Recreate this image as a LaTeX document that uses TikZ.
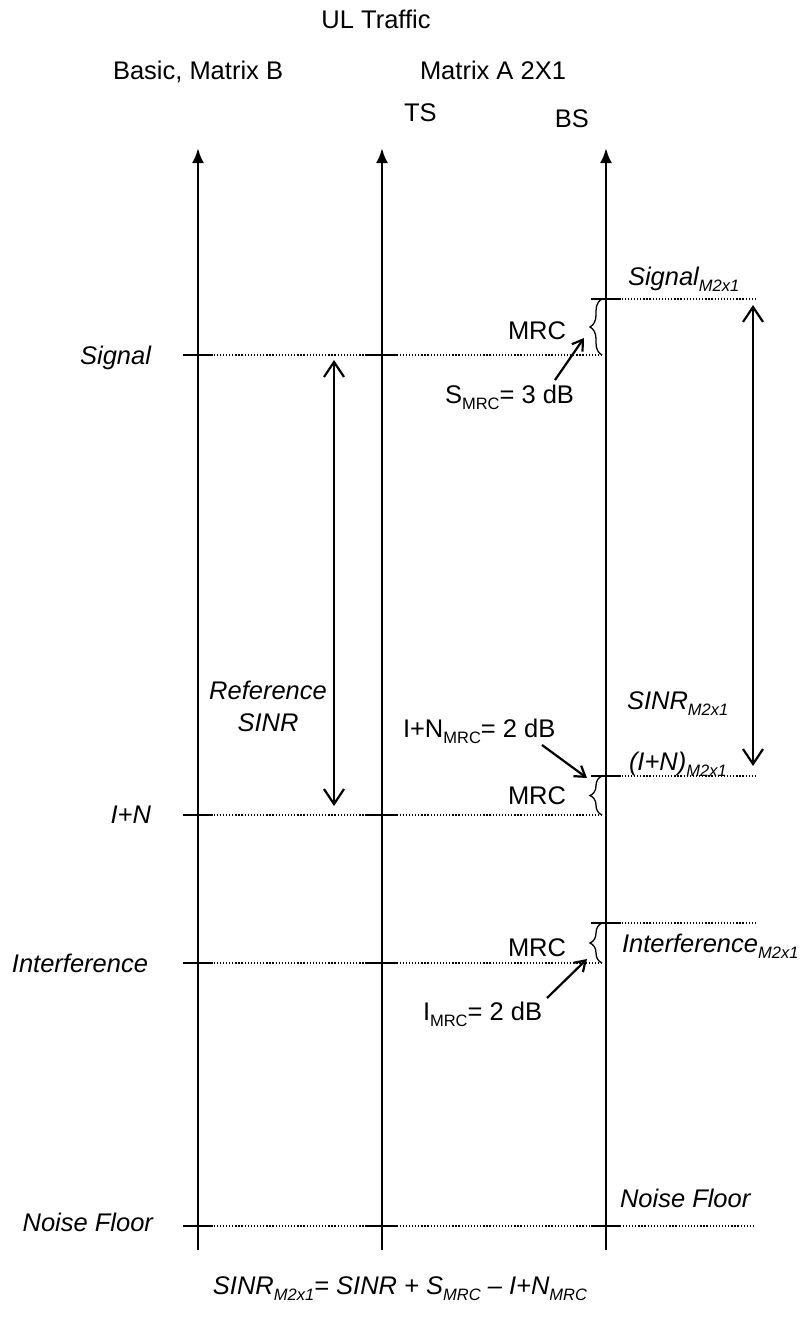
\documentclass[tikz,border=0pt]{standalone}
\usepackage{fontspec}
\setmainfont{Liberation Sans}
\usetikzlibrary{arrows.meta,decorations.pathreplacing}
\newcommand\lowidx[1]{\raisebox{-6.5pt}{\fontsize{16.5}{18}\selectfont #1}}
\begin{document}
\begin{tikzpicture}[x=1pt,y=-1pt,
  font=\fontsize{25.5}{30}\selectfont,
  axisline/.style={line width=2.8pt,-{Latex[length=15pt,width=12pt]}},
  tickmark/.style={line width=2pt},
  levelline/.style={line width=1.3pt,dash pattern=on 1.3pt off 1.8pt},
  span/.style={line width=2.2pt,{Straight Barb[length=15pt,width=20pt]}-{Straight Barb[length=15pt,width=20pt]}},
  pointer/.style={line width=2.2pt,-{Straight Barb[length=10pt,width=13pt]}},
  mrcbrace/.style={decorate,decoration={brace,amplitude=12pt},line width=1.3pt},
  lbl/.style={inner sep=0pt,outer sep=0pt}]
\useasboundingbox (0,0) rectangle (803,1322);

% header texts
\node[lbl,anchor=base] (ul) at (376,29) {UL Traffic};
\node[lbl,anchor=base west] (basic) at (113,79) {Basic, Matrix B};
\node[lbl,anchor=base west] (mata) at (420,79) {Matrix A 2X1};
\node[lbl,anchor=base west] (ts) at (404,121) {TS};
\node[lbl,anchor=base east] (bs) at (589,127) {BS};

% axes
\coordinate (a1b) at (198,1250); \coordinate (a1t) at (198,148);
\coordinate (a2b) at (382,1250); \coordinate (a2t) at (382,148);
\coordinate (a3b) at (606,1250); \coordinate (a3t) at (606,148);
\draw[axisline] (a1b) -- (a1t);
\draw[axisline] (a2b) -- (a2t);
\draw[axisline] (a3b) -- (a3t);

% ticks
\foreach \yy in {355,815,963,1226} {
  \draw[tickmark] (183,\yy) -- (213,\yy);
  \draw[tickmark] (367,\yy) -- (397,\yy);
}
\foreach \yy in {299,776,923,1226}
  \draw[tickmark] (591,\yy) -- (621,\yy);

% level lines
\coordinate (sigL) at (198,355);   \coordinate (sigR) at (603,355);
\coordinate (inL) at (198,815);    \coordinate (inR) at (603,815);
\coordinate (intL) at (198,963);   \coordinate (intR) at (603,963);
\coordinate (nfL) at (198,1226);   \coordinate (nfR) at (755,1226);
\coordinate (sigmL) at (606,299);  \coordinate (sigmR) at (755,299);
\coordinate (inmL) at (606,776);   \coordinate (inmR) at (755,776);
\coordinate (intmL) at (606,923);  \coordinate (intmR) at (755,923);
\draw[levelline] (sigL) -- (sigR);
\draw[levelline] (inL) -- (inR);
\draw[levelline] (intL) -- (intR);
\draw[levelline] (nfL) -- (nfR);
\draw[levelline] (sigmL) -- (sigmR);
\draw[levelline] (inmL) -- (inmR);
\draw[levelline] (intmL) -- (intmR);

% left labels
\node[lbl,anchor=base east] (lsig) at (151,364) {\itshape Signal};
\node[lbl,anchor=base east] (lin) at (151,823) {\itshape I+N};
\node[lbl,anchor=base east] (lint) at (148,972) {\itshape Interference};
\node[lbl,anchor=base east] (lnf) at (153,1231) {\itshape Noise Floor};

% reference SINR
\coordinate (refT) at (334,360); \coordinate (refB) at (334,806);
\draw[span] (refT) -- (refB);
\node[lbl,align=center] (refl) at (268,706) {\itshape Reference\\[2pt]\itshape SINR};

% SINR M2x1
\coordinate (smT) at (753,305); \coordinate (smB) at (753,766);
\draw[span] (smT) -- (smB);
\node[lbl,anchor=base west] (sml) at (627,709) {\itshape SINR\lowidx{M2x1}};

% right labels
\node[lbl,anchor=base west] (rsig) at (628,285) {\itshape Signal\lowidx{M2x1}};
\node[lbl,anchor=base west] (rin) at (629,770) {\itshape (I+N)\lowidx{M2x1}};
\node[lbl,anchor=base west] (rint) at (622,952) {\itshape Interference\lowidx{M2x1}};
\node[lbl,anchor=base west] (rnf) at (620,1207) {\itshape Noise Floor};

% MRC braces
\draw[mrcbrace] (602,355) -- (602,299);
\draw[mrcbrace] (602,815) -- (602,776);
\draw[mrcbrace] (602,963) -- (602,923);
\node[lbl,anchor=base west] (mrc1) at (508,339) {MRC};
\node[lbl,anchor=base west] (mrc2) at (508,804) {MRC};
\node[lbl,anchor=base west] (mrc3) at (508,956) {MRC};

% gain labels and pointers
\node[lbl,anchor=base west] (smrc) at (445,403) {S\lowidx{MRC}= 3 dB};
\node[lbl,anchor=base west] (inmrc) at (403,737) {I+N\lowidx{MRC}= 2 dB};
\node[lbl,anchor=base west] (imrc) at (423,1020) {I\lowidx{MRC}= 2 dB};
\coordinate (p1s) at (555,380); \coordinate (p1e) at (584,338);
\coordinate (p2s) at (542,745); \coordinate (p2e) at (587,778);
\coordinate (p3s) at (547,998); \coordinate (p3e) at (587,959);
\draw[pointer] (p1s) -- (p1e);
\draw[pointer] (p2s) -- (p2e);
\draw[pointer] (p3s) -- (p3e);

% formula
\node[lbl,anchor=base] (formula) at (400,1294)
  {\itshape SINR\lowidx{M2x1}= SINR + S\lowidx{MRC} – I+N\lowidx{MRC}};
\end{tikzpicture}
\end{document}
